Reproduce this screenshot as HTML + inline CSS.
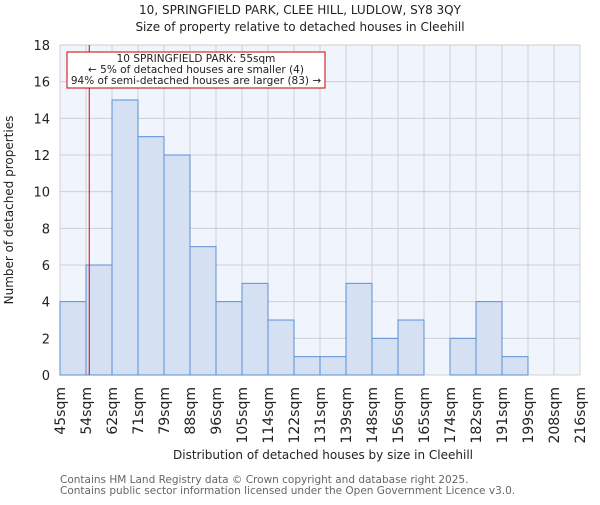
<!DOCTYPE html>
<html><head><meta charset="utf-8"><style>
body{margin:0;background:#fff;}
svg text{font-family:"DejaVu Sans","Liberation Sans",sans-serif;}
</style></head><body>
<svg id="chart" width="600" height="500" xmlns="http://www.w3.org/2000/svg">
<text x="300" y="14" text-anchor="middle" font-size="12" fill="#222">10, SPRINGFIELD PARK, CLEE HILL, LUDLOW, SY8 3QY</text>
<text x="300" y="31" text-anchor="middle" font-size="12" fill="#222">Size of property relative to detached houses in Cleehill</text>
<rect x="60" y="45" width="520" height="330" fill="#f0f4fc"/>
<g id="grid"></g>
<g id="bars"></g>
<g id="xt"></g>
<g id="yt"></g>
<text x="323" y="459" text-anchor="middle" font-size="12" fill="#222">Distribution of detached houses by size in Cleehill</text>
<text transform="translate(13,210) rotate(-90)" text-anchor="middle" font-size="12" fill="#222">Number of detached properties</text>
<text x="60" y="483" font-size="10.5" fill="#666">Contains HM Land Registry data © Crown copyright and database right 2025.</text>
<text x="60" y="494" font-size="10.5" fill="#666">Contains public sector information licensed under the Open Government Licence v3.0.</text>
<g id="marker"></g>
</svg>
<script>
const binLabels=["45sqm","54sqm","62sqm","71sqm","79sqm","88sqm","96sqm","105sqm","114sqm","122sqm","131sqm","139sqm","148sqm","156sqm","165sqm","174sqm","182sqm","191sqm","199sqm","208sqm","216sqm"];
const binEdges=[45,54,62,71,79,88,96,105,114,122,131,139,148,156,165,174,182,191,199,208,216];
const counts=[4,6,15,13,12,7,4,5,3,1,1,5,2,3,0,2,4,1,0,0];
const yTicks=[0,2,4,6,8,10,12,14,16,18];
const propertySize=55;
const NS="http://www.w3.org/2000/svg";
const X0=60,W=520,Y0=375,H=330,YMAX=18;
const nb=counts.length;
function xi(i){return X0+i*W/nb;}
function xv(v){let i=0;while(i<nb-1&&v>binEdges[i+1])i++;return xi(i)+(v-binEdges[i])/(binEdges[i+1]-binEdges[i])*W/nb;}
function y(v){return Y0-v/YMAX*H;}
function mk(t,a,p){const e=document.createElementNS(NS,t);for(const k in a)e.setAttribute(k,a[k]);p.appendChild(e);return e;}
const grid=document.getElementById('grid'),bars=document.getElementById('bars'),xt=document.getElementById('xt'),yt=document.getElementById('yt');
for(let i=0;i<=nb;i++){const l=mk('line',{x1:xi(i),x2:xi(i),y1:45,y2:375,stroke:'#d0d0d0','stroke-width':1},grid);

}
yTicks.forEach(v=>{const l=mk('line',{x1:60,x2:580,y1:y(v),y2:y(v),stroke:'#d0d0d0','stroke-width':1},grid);


const t=mk('text',{x:50,y:y(v)+5,'text-anchor':'end','font-size':13,fill:'#222'},yt);t.textContent=v;

});
counts.forEach((c,i)=>{if(c<=0)return;const r=mk('rect',{x:xi(i),y:y(c),width:W/nb,height:c/YMAX*H,fill:'#d6e0f3',stroke:'#5b8fd6','stroke-width':1},bars);

});
binLabels.forEach((s,i)=>{const t=mk('text',{transform:`translate(${xi(i)+5},387) rotate(-90)`,'text-anchor':'end','font-size':14,fill:'#222'},xt);t.textContent=s;

});
const m=document.getElementById('marker');
const px=xv(propertySize);
const ml=mk('line',{x1:px,x2:px,y1:45,y2:375,stroke:'#dd0000','stroke-width':1},m);


const box=mk('rect',{x:67,y:52,width:258,height:36,fill:'#fff',stroke:'#cc0000','stroke-width':1},m);


["10 SPRINGFIELD PARK: 55sqm","← 5% of detached houses are smaller (4)","94% of semi-detached houses are larger (83) →"].forEach((s,i)=>{const t=mk('text',{x:196,y:62+i*11,'text-anchor':'middle','font-size':10.5,fill:'#222'},m);t.textContent=s;

});
</script>
</body></html>
